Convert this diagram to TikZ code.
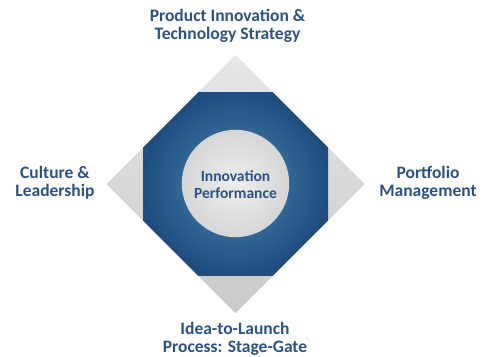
\documentclass[tikz,border=0pt]{standalone}
\usepackage{fontspec}
\setmainfont{Carlito}
\usetikzlibrary{shapes.geometric}
\definecolor{txtblue}{HTML}{2B5287}
\definecolor{octout}{HTML}{1F4D80}
\definecolor{octin}{HTML}{4A88B6}
\definecolor{diatop}{HTML}{E6E6E6}
\definecolor{diabot}{HTML}{CACACA}
\definecolor{circin}{HTML}{EEEEEE}
\definecolor{circout}{HTML}{D6D6D6}
\tikzset{
  lbl/.style={text=txtblue, font=\fontsize{17.5}{18}\selectfont\bfseries, align=center, inner sep=0pt},
  ctr/.style={text=txtblue, font=\fontsize{15.5}{17.6}\selectfont\bfseries, align=center, inner sep=0pt}
}
\begin{document}
\begin{tikzpicture}[x=1pt,y=-1pt]
\useasboundingbox (0,0) rectangle (484,356);
\fill[white] (0,0) rectangle (484,356);
% diamond
\shade[top color=diatop, bottom color=diabot] (235.5,55) -- (364.5,184) -- (235.5,313) -- (106.5,184) -- cycle;
% octagon = diamond clipped by square
\begin{scope}
\clip (235.5,55) -- (364.5,184) -- (235.5,313) -- (106.5,184) -- cycle;
\shade[inner color=octin, outer color=octout] (143,92) rectangle (328,275);
\end{scope}
% circle
\shade[inner color=circin, outer color=circout] (235.5,183.5) circle (53.7);
\node[ctr] (core) at (235.5,184.5) {Innovation\\Performance};
\node[lbl] (top) at (227.5,26) {Product Innovation \&\\Technology Strategy};
\node[lbl] (left) at (55,183) {Culture \&\\Leadership};
\node[lbl] (right) at (428,183) {Portfolio\\Management};
\node[lbl] (bottom) at (235,339) {Idea-to-Launch\\Process: Stage-Gate};
\node[text=txtblue, font=\fontsize{3}{3}\selectfont, inner sep=0pt] (reg) at (308,339) {®};
\end{tikzpicture}
\end{document}
